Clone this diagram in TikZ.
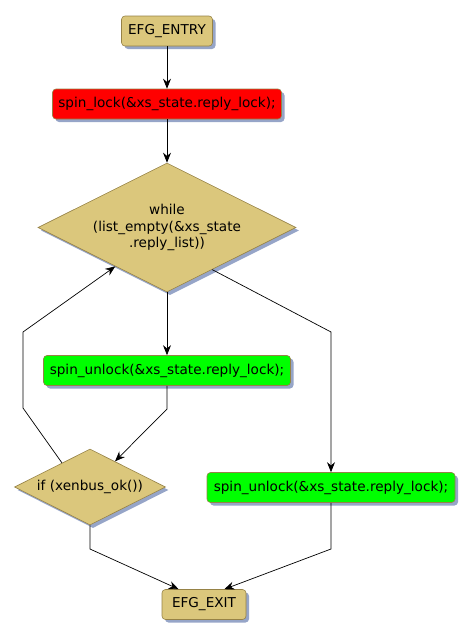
\documentclass[tikz,border=0pt]{standalone}
\usepackage{fontspec}
\setmainfont{DejaVu Sans}
\usetikzlibrary{shapes.geometric,shadows,calc,arrows.meta}
\definecolor{efgtan}{RGB}{219,199,124}
\definecolor{efgborder}{RGB}{150,130,70}
\definecolor{efgshadow}{RGB}{150,165,200}
\begin{document}
\begin{tikzpicture}[x=1pt, y=-1pt, every node/.style={font=\fontsize{13.6}{16.5}\selectfont},
  shad/.style={drop shadow={shadow xshift=3pt, shadow yshift=-3pt, fill=efgshadow, opacity=1}},
  box/.style={rectangle, rounded corners=3.5pt, draw=efgborder, line width=0.6pt, inner sep=0pt, minimum height=30pt, shad},
  cond/.style={diamond, shape aspect=2, draw=efgborder, fill=efgtan, line width=0.6pt, inner sep=0pt, align=center, shad},
  flow/.style={-{Stealth[length=10pt,width=8pt]}, line width=0.7pt}]
  \useasboundingbox (0,0) rectangle (473,638);

  \coordinate (bendA) at (167,409);
  \coordinate (bendB) at (331,332);
  \coordinate (bendC) at (23,408);
  \coordinate (bendD) at (23,332);
  \coordinate (bendE) at (90,549);
  \coordinate (bendF) at (331,549);

  \node[box, fill=efgtan, minimum width=91pt]  (entry)   at (167,31)  {EFG\_ENTRY};
  \node[box, fill=red, minimum width=229pt]    (lock)    at (167,104) {spin\_lock(\&xs\_state.reply\_lock);};
  \node[cond, minimum width=258pt, minimum height=129pt] (while) at (167,227.5)
    {while\\(list\_empty(\&xs\_state\\.reply\_list))};
  \node[box, fill=green, minimum width=247pt]  (unlockA) at (167,370.5) {spin\_unlock(\&xs\_state.reply\_lock);};
  \node[cond, minimum width=151pt, minimum height=76pt] (if) at (90,487) {if (xenbus\_ok())};
  \node[box, fill=green, minimum width=248pt]  (unlockB) at (331,487.5) {spin\_unlock(\&xs\_state.reply\_lock);};
  \node[box, fill=efgtan, minimum width=84pt]  (exit)    at (204,604.5) {EFG\_EXIT};

  \draw[flow] (entry) -- (lock);
  \draw[flow] (lock) -- (while);
  \draw[flow] (while) -- (unlockA);
  \draw[flow] ($(while.south)!0.35!(while.east)$) -- (bendB) -- (unlockB);
  \draw[flow] (unlockA.south) -- (bendA) -- ($(if.north)!0.33!(if.east)$);
  \draw[flow] ($(if.north)!0.37!(if.west)$) -- (bendC) -- (bendD) -- ($(while.south)!0.4!(while.west)$);
  \draw[flow] (if.south) -- (bendE) -- ($(exit.north west)!0.2!(exit.north east)$);
  \draw[flow] (unlockB.south) -- (bendF) -- ($(exit.north west)!0.74!(exit.north east)$);
\end{tikzpicture}
\end{document}
